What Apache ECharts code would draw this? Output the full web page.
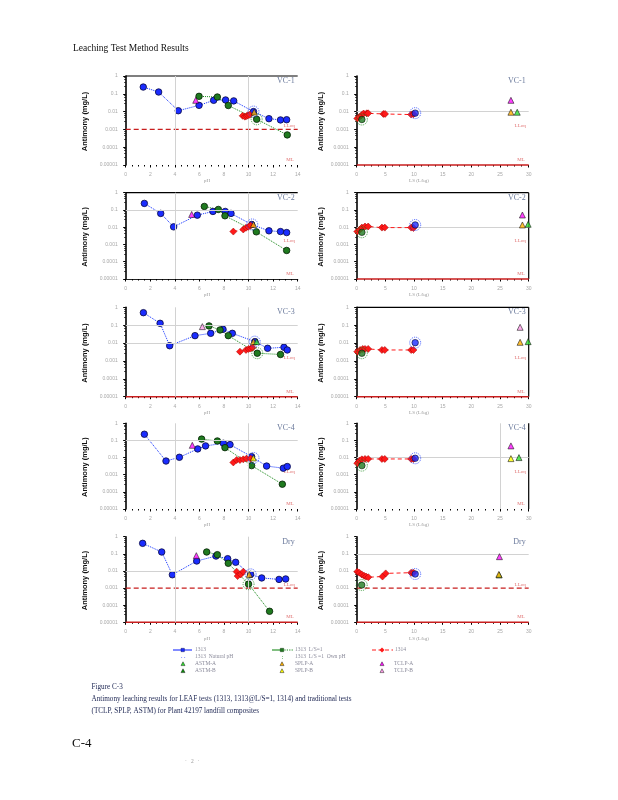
<!DOCTYPE html>
<html><head><meta charset="utf-8">
<script src="https://cdn.jsdelivr.net/npm/echarts@6/dist/echarts.min.js"></script>
<style>html,body{margin:0;padding:0;background:#fff}#c{width:618px;height:800px}</style>
</head><body><div id="c"></div>
<script>
// ================= DATA =================
const pHTicks = ['0','2','4','6','8','10','12','14'];
const lsTicks = ['0','5','10','15','20','25','30'];
const concTicks = ['1','0.1','0.01','0.001','0.0001','0.00001'];
const panelNames = ['VC-1','VC-2','VC-3','VC-4','Dry'];
const LLOQ = 0.001, ML = 0.00001;

// --- VC-1 ---
const VC1_1313 = [[1.43,0.24],[2.68,0.126],[4.28,0.0112],[5.97,0.0224],[7.16,0.043],[8.13,0.045],[8.79,0.04],[10.4,0.01],[11.66,0.004],[12.6,0.0034],[13.1,0.0035]];
const VC1_LS1 = [[5.97,0.072],[7.46,0.066],[8.35,0.022],[10.66,0.0037],[13.15,0.00049]];
const VC1_1314pH = [[9.52,0.0058],[9.7,0.0052],[9.85,0.0056],[9.95,0.0062],[10.1,0.0066]];
const VC1_natpH = [[10.4,0.01]], VC1_ownpH = [[10.66,0.0037]];
const VC1_tradpH = {TCLPA:[[5.7,0.043]], SPLPA:[[10.46,0.0094]]};
const VC1_1314LS = [[0.1,0.0041],[0.45,0.005],[0.85,0.0063],[1.2,0.0078],[1.75,0.008],[2.0,0.008],[4.65,0.0074],[4.95,0.0074],[9.5,0.0068],[9.9,0.0072]];
const VC1_natLS = [[10.2,0.0082]], VC1_ownLS = [[0.9,0.0036]];
const VC1_tradLS = {TCLPA:[[26.9,0.043]], SPLPA:[[26.9,0.0092]], ASTMA:[[28,0.0092]]};

// --- VC-2 ---
const VC2_1313 = [[1.52,0.24],[2.85,0.063],[3.9,0.0105],[5.83,0.05],[7.1,0.082],[8.1,0.082],[8.57,0.063],[10.25,0.0144],[11.66,0.0062],[12.6,0.0056],[13.1,0.0049]];
const VC2_LS1 = [[6.4,0.16],[7.54,0.107],[8.08,0.046],[10.63,0.0054],[13.1,0.00045]];
const VC2_1314pH = [[8.76,0.0056],[9.57,0.0074],[9.79,0.0093],[9.98,0.0105],[10.17,0.0126]];
const VC2_natpH = [[10.3,0.0144]], VC2_ownpH = [];
const VC2_tradpH = {TCLPA:[[5.37,0.055]], SPLPA:[[10.4,0.0144]]};
const VC2_1314LS = [[0.1,0.0056],[0.5,0.0071],[0.9,0.0095],[1.45,0.011],[2.0,0.011],[4.4,0.0095],[4.9,0.0095],[9.5,0.0095],[9.9,0.009]];
const VC2_natLS = [[10.2,0.0135]], VC2_ownLS = [[0.9,0.0051]];
const VC2_tradLS = {TCLPA:[[28.9,0.051]], SPLPA:[[28.9,0.0135]], ASTMA:[[29.9,0.0148]]};

// --- VC-3 ---
const VC3_1313 = [[1.44,0.5],[2.8,0.127],[3.58,0.0071],[5.64,0.026],[6.92,0.035],[7.92,0.059],[8.68,0.035],[10.52,0.012],[11.55,0.0051],[12.88,0.0058],[13.15,0.0041]];
const VC3_LS1 = [[6.78,0.091],[7.68,0.054],[8.35,0.026],[10.71,0.0027],[12.6,0.0023]];
const VC3_1314pH = [[9.3,0.0033],[9.79,0.0041],[10.0,0.0047],[10.17,0.0049],[10.33,0.0055]];
const VC3_natpH = [[10.5,0.012]], VC3_ownpH = [[10.71,0.0027]];
const VC3_tradpH = {TCLPB:[[6.24,0.083]], SPLPA:[[10.4,0.012]], ASTMA:[[10.66,0.012]]};
const VC3_1314LS = [[0.1,0.0033],[0.6,0.0041],[1.05,0.0047],[1.45,0.0047],[2.0,0.0047],[4.4,0.0041],[4.9,0.0041],[9.5,0.0041],[9.9,0.0041]];
const VC3_natLS = [[10.2,0.0105]], VC3_ownLS = [[0.9,0.0027]];
const VC3_tradLS = {TCLPB:[[28.5,0.076]], SPLPA:[[28.5,0.011]], ASTMA:[[29.9,0.012]]};

// --- VC-4 ---
const VC4_1313 = [[1.52,0.23],[3.28,0.0063],[4.37,0.0104],[5.86,0.032],[6.5,0.048],[7.95,0.068],[8.49,0.057],[10.25,0.0113],[11.47,0.0032],[12.83,0.0024],[13.15,0.003]];
const VC4_LS1 = [[6.18,0.12],[7.46,0.093],[8.08,0.038],[10.25,0.0034],[12.75,0.00028]];
const VC4_1314pH = [[8.76,0.0052],[9.03,0.0072],[9.3,0.0072],[9.57,0.0079],[9.84,0.0087],[10.17,0.0087]];
const VC4_natpH = [[10.4,0.0095]], VC4_ownpH = [];
const VC4_tradpH = {TCLPA:[[5.42,0.052]], SPLPB:[[10.39,0.0095]]};
const VC4_1314LS = [[0.1,0.0047],[0.5,0.0066],[0.9,0.0079],[1.45,0.0083],[2.0,0.0083],[4.4,0.0083],[4.9,0.0083],[9.5,0.0083],[9.9,0.0083]];
const VC4_natLS = [[10.2,0.0091]], VC4_ownLS = [[0.9,0.0034]];
const VC4_tradLS = {TCLPA:[[26.9,0.048]], SPLPB:[[26.9,0.0087]], ASTMA:[[28.3,0.01]]};

// --- Dry ---
const DRY_1313 = [[1.38,0.41],[2.93,0.128],[3.8,0.006],[5.78,0.038],[7.35,0.074],[8.3,0.052],[8.95,0.032],[10.17,0.0063],[11.07,0.0039],[12.48,0.0032],[13.02,0.0034]];
const DRY_LS1 = [[6.59,0.128],[7.46,0.089],[8.35,0.028],[10.0,0.0017],[11.71,0.000044]];
const DRY_1314pH = [[9.03,0.0091],[9.11,0.005],[9.36,0.0063],[9.57,0.0091]];
const DRY_natpH = [[10.17,0.0063]], DRY_ownpH = [[10.0,0.0017]];
const DRY_tradpH = {TCLPA:[[5.75,0.078]], SPLPA:[[10.06,0.0063]]};
const DRY_1314LS = [[0.1,0.0091],[0.46,0.0079],[0.87,0.0063],[1.28,0.0052],[1.63,0.0047],[2.03,0.0043],[4.5,0.0047],[5.06,0.0072],[9.5,0.0079],[9.9,0.0079]];
const DRY_natLS = [[10.2,0.0066]], DRY_ownLS = [[0.87,0.0015]];
const DRY_tradLS = {ASTMA:[[24.85,0.0058]], TCLPA:[[24.9,0.068]], SPLPA:[[24.8,0.0063]]};

const greyLines = [
  [[0.0001],[0.01,0.0001]],
  [[0.1],[0.01]],
  [[0.1,0.01],[0.001]],
  [[0.1,0.0001],[0.01,0.0001]],
  [[0.01],[0.1]]
];

// ================= LAYOUT / STYLE =================
const rows = [{top:76,h:89},{top:192.7,h:86.3},{top:307.3,h:89.4},{top:423.3,h:85.7},{top:536.7,h:85.6}];
const LX = 125.7, RX = 356.7, W = 172;
const deco = [
  [{lloq:true, ml:false, axisLine:null, top:true, right:false},{lloq:false, ml:true, top:false, right:false}],
  [{lloq:false, ml:false, axisLine:'#222', top:true, right:false},{lloq:false, ml:true, top:true, right:true}],
  [{lloq:false, ml:true, top:false, right:false},{lloq:false, ml:true, top:true, right:true}],
  [{lloq:false, ml:false, top:false, right:false},{lloq:false, ml:false, top:false, right:true, vline:25}],
  [{lloq:true, ml:true, top:false, right:false},{lloq:true, ml:true, top:false, right:false}]
];
const allData = [
  [VC1_1313,VC1_LS1,VC1_1314pH,VC1_natpH,VC1_ownpH,VC1_tradpH,VC1_1314LS,VC1_natLS,VC1_ownLS,VC1_tradLS],
  [VC2_1313,VC2_LS1,VC2_1314pH,VC2_natpH,VC2_ownpH,VC2_tradpH,VC2_1314LS,VC2_natLS,VC2_ownLS,VC2_tradLS],
  [VC3_1313,VC3_LS1,VC3_1314pH,VC3_natpH,VC3_ownpH,VC3_tradpH,VC3_1314LS,VC3_natLS,VC3_ownLS,VC3_tradLS],
  [VC4_1313,VC4_LS1,VC4_1314pH,VC4_natpH,VC4_ownpH,VC4_tradpH,VC4_1314LS,VC4_natLS,VC4_ownLS,VC4_tradLS],
  [DRY_1313,DRY_LS1,DRY_1314pH,DRY_natpH,DRY_ownpH,DRY_tradpH,DRY_1314LS,DRY_natLS,DRY_ownLS,DRY_tradLS]
];
const triColors = {TCLPA:'#ff10ff', TCLPB:'#ff9be8', SPLPA:'#ffb000', SPLPB:'#ffff00', ASTMA:'#30e030', ASTMB:'#0a8a0a'};
const BLUE='#1a2cff', GREEN='#1f7a1f', RED='#ff1a1a';
const tickFont = {fontSize:5, color:'#a8a8a8', fontFamily:'Liberation Sans'};
const SERIF = 'Liberation Serif';

const grids=[], xAxes=[], yAxes=[], series=[], graphic=[];

function addPanel(r, side){
  const i = grids.length;
  const d = deco[r][side];
  const left = side===0 ? LX : RX;
  grids.push({left:left, top:rows[r].top, width:W, height:rows[r].h, containLabel:false});
  const ticks = side===0 ? pHTicks : lsTicks;
  const xmax = side===0?14:30;
  xAxes.push({gridIndex:i, type:'value', min:0, max:xmax, interval: side===0?2:5,
    axisLine:{show: !!d.axisLine, lineStyle:{color:d.axisLine||'#000', width:1.2}},
    axisTick:{show:true, length:2.5, lineStyle:{color:'#000', width:1}},
    minorTick:{show:true, splitNumber:4, length:1.5, lineStyle:{color:'#000', width:1}},
    splitLine:{show:false},
    axisLabel:Object.assign({margin:7, formatter:(v)=>{const k=Math.round(v/(side===0?2:5)); return ticks[k]||'';}}, tickFont)
  });
  yAxes.push({gridIndex:i, type:'log', logBase:10, min:ML, max:1,
    axisLine:{show:true, lineStyle:{color:'#000', width:1.6}},
    axisTick:{show:true, length:2.5, lineStyle:{color:'#000', width:1}},
    minorTick:{show:true, splitNumber:5, length:1.5, lineStyle:{color:'#000', width:0.8}},
    splitLine:{show:false},
    axisLabel:Object.assign({margin:8, formatter:(v)=>concTicks[Math.round(-Math.log10(v))]||''}, tickFont)
  });
  const D = allData[r];
  const s1313 = side===0 ? D[0] : [];
  const sLS1 = side===0 ? D[1] : [];
  const s1314 = side===0 ? D[2] : D[6];
  const nat = side===0 ? D[3] : D[7];
  const own = side===0 ? D[4] : D[8];
  const trad = side===0 ? D[5] : D[9];
  const common = {xAxisIndex:i, yAxisIndex:i, animation:false, silent:true};
  const ml = [];
  greyLines[r][side].forEach(v=>ml.push({yAxis:v, lineStyle:{color:'#d2d2d2', width:1, type:'solid'}}));
  if(side===0){ [4,10].forEach(v=>ml.push({xAxis:v, lineStyle:{color:'#d2d2d2', width:1, type:'solid'}})); }
  if(d.vline){ ml.push({xAxis:d.vline, lineStyle:{color:'#d2d2d2', width:1, type:'solid'}}); }
  series.push(Object.assign({type:'line', data:[], z:1,
    markLine:{silent:true, symbol:['none','none'], animation:false, label:{show:false}, data:ml}}, common));
  // LLOQ dashed line and ML solid line, drawn as line series through the axes
  if(d.lloq) series.push(Object.assign({type:'line', data:[[0,LLOQ],[xmax,LLOQ]], symbol:'none', z:2,
    lineStyle:{color:'#c81e1e', width:1.2, type:[5,3]}}, common));
  if(d.ml) series.push(Object.assign({type:'line', data:[[0,ML],[xmax,ML]], symbol:'none', z:2, clip:false,
    lineStyle:{color:'#c81e1e', width:1.6, type:'solid'}}, common));
  series.push(Object.assign({type:'line', data:s1313, symbol:'circle', symbolSize:6.5, z:4,
    lineStyle:{color:'#1030ff', width:1, type:'dotted'},
    itemStyle:{color:BLUE, borderColor:'#0a0a40', borderWidth:0.8}}, common));
  series.push(Object.assign({type:'line', data:sLS1, symbol:'circle', symbolSize:6.5, z:4,
    lineStyle:{color:'#1a8a1a', width:1, type:'dotted'},
    itemStyle:{color:GREEN, borderColor:'#062006', borderWidth:0.8}}, common));
  series.push(Object.assign({type:'line', data:s1314, symbol:'diamond', symbolSize:7, z:5,
    lineStyle:{color:RED, width:1, type:[4,3]},
    itemStyle:{color:RED, borderColor:'#a00000', borderWidth:0.5}}, common));
  if(side===1){
    series.push(Object.assign({type:'scatter', data:nat, symbol:'circle', symbolSize:6.5, z:5,
      itemStyle:{color:BLUE, borderColor:'#0a0a40', borderWidth:0.8}}, common));
    series.push(Object.assign({type:'scatter', data:own, symbol:'circle', symbolSize:6.5, z:5,
      itemStyle:{color:GREEN, borderColor:'#062006', borderWidth:0.8}}, common));
  }
  series.push(Object.assign({type:'scatter', data:nat, symbol:'circle', symbolSize:11, z:6,
    itemStyle:{color:'rgba(0,0,0,0)', borderColor:'#2040ff', borderWidth:1, borderType:'dotted'}}, common));
  series.push(Object.assign({type:'scatter', data:own, symbol:'circle', symbolSize:11, z:6,
    itemStyle:{color:'rgba(0,0,0,0)', borderColor:'#1a8a1a', borderWidth:1, borderType:'dotted'}}, common));
  Object.keys(trad).forEach(k=>{
    series.push(Object.assign({type:'scatter', data:trad[k], symbol:'triangle', symbolSize:6, z:7,
      itemStyle:{color:triColors[k], borderColor:'#111', borderWidth:0.7}}, common));
  });
  const top = rows[r].top, h = rows[r].h;
  if(d.top) graphic.push({type:'line', shape:{x1:left, y1:top, x2:left+W, y2:top}, style:{stroke:'#000', lineWidth:1.2}, silent:true});
  if(d.right) graphic.push({type:'line', shape:{x1:left+W, y1:top, x2:left+W, y2:top+h}, style:{stroke:'#000', lineWidth:1.2}, silent:true});
  graphic.push({type:'text', x:left+W-3, y:top+5, style:{text:panelNames[r], fontSize:8, fontFamily:SERIF, fill:'#6b7a9c', align:'right', textAlign:'right', verticalAlign:'middle', textVerticalAlign:'middle'}, silent:true});
  graphic.push({type:'text', x: side===0?85:320.7, y: top+h/2+1, rotation:Math.PI/2,
    style:{text:'Antimony (mg/L)', fontSize:7.5, fontWeight:'bold', fontFamily:'Liberation Sans', fill:'#111', align:'center', textAlign:'center', verticalAlign:'middle', textVerticalAlign:'middle'}, silent:true});
  graphic.push({type:'text', x: side===0?207:419, y: top+h+16, style:{text: side===0?'pH':'LS (L/kg)', fontSize:5, fontFamily:SERIF, fill:'#9a9a9a', align:'center', textAlign:'center', verticalAlign:'middle', textVerticalAlign:'middle'}, silent:true});
}
for(let r=0;r<5;r++){ addPanel(r,0); addPanel(r,1); }

function txt(t,x,y,size,color,extra){ graphic.push(Object.assign({type:'text', x:x, y:y, silent:true, style:Object.assign({text:t, fontSize:size, fontFamily:SERIF, fill:color, verticalAlign:'middle', textVerticalAlign:'middle'}, extra||{})})); }
txt('Leaching Test Method Results', 73, 48.5, 9.5, '#111');
txt('Figure C-3', 91.5, 687, 7.2, '#1c2552');
txt('Antimony leaching results for LEAF tests (1313, 1313@L/S=1, 1314) and traditional tests', 91.5, 699.5, 7.2, '#1c2552');
txt('(TCLP, SPLP, ASTM) for Plant 42197 landfill composites', 91.5, 711.5, 7.2, '#1c2552');
txt('C-4', 72, 743.5, 13, '#111');
txt('·   2   ·', 185, 762, 5.5, '#999');

const lgText = '#8a8a9a';
function tri(x,y,c){ graphic.push({type:'polygon', shape:{points:[[x,y-2.2],[x-2,y+1.6],[x+2,y+1.6]]}, style:{fill:c, stroke:'#222', lineWidth:0.5}, silent:true}); }
function seg(x1,x2,y,c,dash,w){ graphic.push({type:'line', shape:{x1:x1,y1:y,x2:x2,y2:y}, style:{stroke:c, lineWidth:w||1, lineDash:dash||null}, silent:true}); }
seg(173,192,650,'#1a2cff',null,1.1);
graphic.push({type:'rect', shape:{x:181,y:648.3,width:3.4,height:3.4}, style:{fill:BLUE, stroke:'#0a0a40', lineWidth:0.4}, silent:true});
txt('1313', 195, 650, 5.5, lgText);
seg(272,282,650,'#1a8a1a',null,1.1); seg(282,293,650,'#1a8a1a',[1.2,1.2],1.1);
graphic.push({type:'rect', shape:{x:280.3,y:648.3,width:3.4,height:3.4}, style:{fill:GREEN, stroke:'#062006', lineWidth:0.4}, silent:true});
txt('1313  L/S=1', 295, 650, 5.5, lgText);
seg(372,393,650,RED,[4,2.5],1.1);
graphic.push({type:'polygon', shape:{points:[[382,647.5],[384.5,650],[382,652.5],[379.5,650]]}, style:{fill:RED}, silent:true});
txt('1314', 395, 650, 5.5, lgText);
txt('. .', 181, 656.5, 6, '#1a2cff');
txt('1313  Natural pH', 195, 657, 5.5, lgText);
txt(':', 281.5, 657, 6, '#1a8a1a');
txt('1313  L/S =1  Own pH', 295, 657, 5.5, lgText);
tri(183,664,triColors.ASTMA); txt('ASTM-A', 195, 664, 5.5, lgText);
tri(282,664,triColors.SPLPA); txt('SPLP-A', 295, 664, 5.5, lgText);
tri(382,664,triColors.TCLPA); txt('TCLP-A', 394, 664, 5.5, lgText);
tri(183,671,triColors.ASTMB); txt('ASTM-B', 195, 671, 5.5, lgText);
tri(282,671,triColors.SPLPB); txt('SPLP-B', 295, 671, 5.5, lgText);
tri(382,671,triColors.TCLPB); txt('TCLP-B', 394, 671, 5.5, lgText);

const chart = echarts.init(document.getElementById('c'));
chart.setOption({backgroundColor:'#fff', animation:false, grid:grids, xAxis:xAxes, yAxis:yAxes, series:series, graphic:graphic});

// LLoq / ML labels positioned through the axes' own scales
const extra = [];
for(let g=0; g<grids.length; g++){
  const xmax = (g%2===0)?14:30;
  const pL = chart.convertToPixel({gridIndex:g}, [xmax, LLOQ]);
  const pM = chart.convertToPixel({gridIndex:g}, [xmax, ML]);
  extra.push({type:'text', x:pL[0]-3, y:pL[1]-3.5, silent:true, style:{text:'LLoq', fontSize:5, fontFamily:SERIF, fill:'#e07070', align:'right', textAlign:'right', verticalAlign:'middle', textVerticalAlign:'middle'}});
  extra.push({type:'text', x:pM[0]-4, y:pM[1]-5.5, silent:true, style:{text:'ML', fontSize:5, fontFamily:SERIF, fill:'#e07070', align:'right', textAlign:'right', verticalAlign:'middle', textVerticalAlign:'middle'}});
}
chart.setOption({graphic: graphic.concat(extra)});
</script></body></html>
